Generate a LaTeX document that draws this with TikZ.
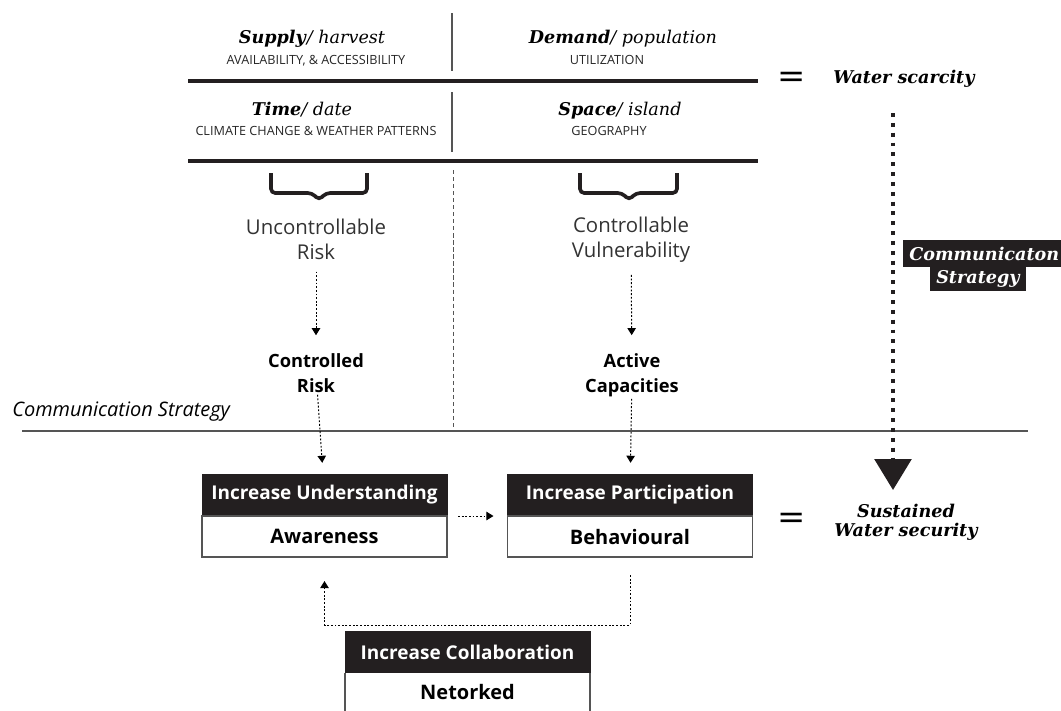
\documentclass[tikz,border=0pt]{standalone}
\usepackage{fontspec}
\setmainfont{Open Sans}
\newfontfamily\headfont{DejaVu Serif}
\usetikzlibrary{arrows.meta,positioning}
\definecolor{boxblack}{RGB}{35,31,32}
\definecolor{rulegray}{RGB}{85,85,85}

\begin{document}
\begin{tikzpicture}[x=0.025cm, y=-0.025cm,
  head/.style={font=\headfont\fontsize{12.5}{14}\selectfont},
  sub/.style={font=\fontsize{9}{10}\selectfont, text=black!85},
  soft/.style={inner sep=0pt, align=center, text=black!80, font=\fontsize{14.5}{17.7}\selectfont},
  firm/.style={inner sep=0pt, align=center, font=\bfseries\fontsize{13}{17.7}\selectfont},
  boxtop/.style={fill=boxblack, draw=boxblack, text=white, outer sep=0pt, minimum width=6.125cm, minimum height=1.05cm, font=\bfseries\fontsize{13.5}{16}\selectfont},
  boxbot/.style={fill=white, draw=rulegray, line width=0.9pt, outer sep=0pt, minimum width=6.125cm, minimum height=1.025cm, font=\bfseries\fontsize{14.2}{17}\selectfont},
  tag/.style={fill=boxblack, text=white, inner xsep=0.15cm, inner ysep=0.06cm, font=\headfont\bfseries\itshape\fontsize{12.5}{14}\selectfont},
  flow/.style={line width=0.7pt, dash pattern=on 1.3pt off 1.3pt, -{Triangle[length=5pt,width=6pt]}},
  bigflow/.style={line width=2.8pt, dash pattern=on 2.8pt off 4.2pt, -{Triangle[length=22pt,width=26pt]}}]
\useasboundingbox (0,0) rectangle (1061,711);

% table of factors
\node[head, anchor=base] (supply) at (312,43) {\textbf{\textit{Supply}}\textit{/ harvest}};
\node[sub, anchor=base] (supplysub) at (316,64) {AVAILABILITY, \& ACCESSIBILITY};
\node[head, anchor=base] (demand) at (623,43) {\textbf{\textit{Demand}}\textit{/ population}};
\node[sub, anchor=base] (demandsub) at (607,64) {UTILIZATION};
\node[head, anchor=base] (time) at (302,115) {\textbf{\textit{Time}}\textit{/ date}};
\node[sub, anchor=base] (timesub) at (316,135) {CLIMATE CHANGE \& WEATHER PATTERNS};
\node[head, anchor=base] (space) at (620,115) {\textbf{\textit{Space}}\textit{/ island}};
\node[sub, anchor=base] (spacesub) at (609,135) {GEOGRAPHY};

\draw[line width=2.2pt, boxblack] (188,81) -- (758,81);
\draw[line width=2.2pt, boxblack] (188,161) -- (758,161);
\draw[line width=0.9pt, rulegray] (452,13) -- (452,71);
\draw[line width=0.9pt, rulegray] (452,92) -- (452,152);
\draw[line width=0.6pt, rulegray, dash pattern=on 3pt off 2pt] (453,170) -- (453,432);

\node[head, font=\headfont\fontsize{24}{24}\selectfont] (eqtop) at (792,80) {=};
\node[head, anchor=base west, inner sep=0pt] (scarcity) at (833,83) {\textbf{\textit{Water scarcity}}};

% braces
\draw[line width=2.6pt, boxblack, rounded corners=3pt] (271,173) -- (271,193) -- (312,193) -- (319,200) -- (326,193) -- (367,193) -- (367,173);
\draw[line width=2.6pt, boxblack, rounded corners=3pt] (580,173) -- (580,193) -- (622,193) -- (629,200) -- (636,193) -- (677,193) -- (677,173);

\node[soft] (urisk) at (316,239) {Uncontrollable\\Risk};
\node[soft] (vuln) at (631,240) {Controllable\\Vulnerability};
\node[firm] (crisk) at (316,373) {Controlled\\Risk};
\node[firm] (active) at (632,375) {Active\\Capacities};

\draw[flow, shorten <=0.3cm, shorten >=0.45cm] (urisk) -- (crisk);
\draw[flow, shorten <=0.3cm, shorten >=0.45cm] (vuln) -- (active);

% communication strategy
\node[anchor=base west, inner sep=0pt, font=\itshape\fontsize{14.2}{15}\selectfont] (commleft) at (12,416) {Communication Strategy};
\draw[line width=1.3pt, rulegray] (22,431) -- (1028,431);

\coordinate (scarcitytip) at (893,113);
\coordinate (securitytip) at (893,490);
\draw[bigflow, boxblack] (scarcitytip) -- (securitytip);
\node[tag, anchor=west, minimum height=0.675cm] (commtop) at (903,253.5) {Communicaton};
\node[tag, anchor=west, minimum height=0.6cm] (commbot) at (930,279) {Strategy};

% outcome boxes
\node[boxtop] (awaretop) at (324.5,495) {Increase Understanding};
\node[boxbot, below=0pt of awaretop] (awarebot) {Awareness};
\node[boxtop] (behavtop) at (630,495) {Increase Participation};
\node[boxbot, below=0pt of behavtop] (behavbot) {Behavioural};
\node[boxtop] (collabtop) at (467.5,652) {Increase Collaboration};
\node[boxbot, draw=none, minimum height=0.95cm, below=0pt of collabtop] (collabbot) {Netorked};
\draw[line width=0.9pt, rulegray] (collabbot.north west) -- (collabbot.south west);
\draw[line width=0.9pt, rulegray] (collabbot.north east) -- (collabbot.south east);

\draw[flow, shorten <=0.05cm, shorten >=0.28cm] (crisk) -- (awaretop);
\draw[flow, shorten <=0.05cm, shorten >=0.28cm] (active) -- (behavtop);
\draw[flow, shorten <=0.275cm, shorten >=0.35cm] (awaretop.south east) -- (behavtop.south west);
\draw[flow] (behavbot.south) ++(0,18) -- ++(0,50) -| ([yshift=-0.6cm]awarebot.south);

\node[head, font=\headfont\fontsize{24}{24}\selectfont] (eqbot) at (792,521) {=};
\node[head, align=center, font=\headfont\bfseries\itshape\fontsize{12.5}{13.5}\selectfont] (security) at (906,522) {Sustained\\Water security};
\end{tikzpicture}
\end{document}
